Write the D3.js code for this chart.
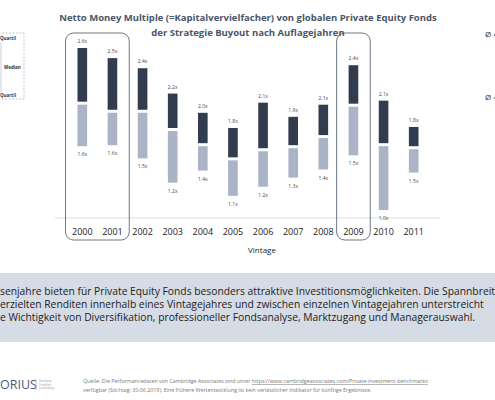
<!DOCTYPE html>
<html><head><meta charset="utf-8">
<script src="https://cdn.jsdelivr.net/npm/d3@7"></script>
<style>body{margin:0;background:#fff;font-family:"Open Sans",sans-serif;}</style>
</head><body>
<svg id="c" width="495" height="400"></svg>
<script>
var years = ['2000','2001','2002','2003','2004','2005','2006','2007','2008','2009','2010','2011'];
var topQ = [2.6, 2.5, 2.4, 2.15, 1.96, 1.81, 2.06, 1.92, 2.04, 2.43, 2.08, 1.82];
var median = [2.07, 1.99, 1.99, 1.81, 1.66, 1.52, 1.61, 1.64, 1.74, 2.05, 1.66, 1.63];
var bottomQ = [1.63, 1.64, 1.51, 1.27, 1.39, 1.14, 1.23, 1.32, 1.40, 1.54, 1.0, 1.37];
var topLabels = ['2.6x','2.5x','2.4x','2.2x','2.0x','1.8x','2.1x','1.9x','2.1x','2.4x','2.1x','1.8x'];
var bottomLabels = ['1.6x','1.6x','1.5x','1.2x','1.4x','1.1x','1.2x','1.3x','1.4x','1.5x','1.0x','1.5x'];
var highlight = [['2000','2001'], ['2009','2009']];

var svg = d3.select('#c');
var x = d3.scaleBand().domain(years).range([57, 439]).padding(0.68);
var y = d3.scaleLinear().domain([1.0, 2.6]).range([210, 48]);

// title
svg.append('text').attr('x', 248).attr('y', 21).attr('text-anchor', 'middle')
    .attr('font-size', 9.5).attr('font-weight', 'bold').attr('fill', '#4a5568')
    .text('Netto Money Multiple (=Kapitalvervielfacher) von globalen Private Equity Fonds');
svg.append('text').attr('x', 248).attr('y', 36).attr('text-anchor', 'middle')
    .attr('font-size', 9.5).attr('font-weight', 'bold').attr('fill', '#4a5568')
    .text('der Strategie Buyout nach Auflagejahren');

// legend stub
svg.append('rect').attr('x', -5).attr('y', 33).attr('width', 29).attr('height', 66)
    .attr('fill', 'none').attr('stroke', '#aaa').attr('stroke-dasharray', '2,1.5').attr('stroke-width', 0.7);
svg.append('line').attr('x1', 1).attr('x2', 1).attr('y1', 42).attr('y2', 92).attr('stroke', '#ccd').attr('stroke-width', 1);
[['Quartil', 0, 40], ['Median', 4, 69], ['Quartil', 0, 97]].forEach(function (d) {
    svg.append('text').attr('x', d[1]).attr('y', d[2]).attr('font-size', 4.5).attr('font-weight', 'bold')
        .attr('fill', '#333').text(d[0]);
});
svg.append('text').attr('x', 485).attr('y', 37).attr('font-size', 8).attr('fill', '#333').text('Ø =');
svg.append('text').attr('x', 485).attr('y', 100).attr('font-size', 8).attr('fill', '#333').text('Ø =');

// axis line
svg.append('line').attr('x1', 55).attr('x2', 440).attr('y1', 218).attr('y2', 218)
    .attr('stroke', '#ddd').attr('stroke-width', 1);

var g = svg.append('g');
g.selectAll('rect.dark').data(years).enter().append('rect')
    .attr('x', function (d) { return x(d); }).attr('width', x.bandwidth())
    .attr('y', function (d, i) { return y(topQ[i]); })
    .attr('height', function (d, i) { return y(median[i]) - y(topQ[i]); })
    .attr('fill', '#323c4f');
g.selectAll('rect.light').data(years).enter().append('rect')
    .attr('x', function (d) { return x(d); }).attr('width', x.bandwidth())
    .attr('y', function (d, i) { return y(median[i]) + 3; })
    .attr('height', function (d, i) { return y(bottomQ[i]) - y(median[i]) - 3; })
    .attr('fill', '#aab4c6');
g.selectAll('text.tl').data(years).enter().append('text')
    .attr('x', function (d) { return x(d) + x.bandwidth() / 2; })
    .attr('y', function (d, i) { return y(topQ[i]) - 5; })
    .attr('text-anchor', 'middle').attr('font-size', 5).attr('fill', '#444')
    .text(function (d, i) { return topLabels[i]; });
g.selectAll('text.bl').data(years).enter().append('text')
    .attr('x', function (d) { return x(d) + x.bandwidth() / 2; })
    .attr('y', function (d, i) { return y(bottomQ[i]) + 10; })
    .attr('text-anchor', 'middle').attr('font-size', 5).attr('fill', '#444')
    .text(function (d, i) { return bottomLabels[i]; });
g.selectAll('text.yr').data(years).enter().append('text')
    .attr('x', function (d) { return x(d) + x.bandwidth() / 2; })
    .attr('y', 235).attr('text-anchor', 'middle').attr('font-size', 9).attr('fill', '#222')
    .text(function (d) { return d; });
svg.append('text').attr('x', 262).attr('y', 253).attr('text-anchor', 'middle')
    .attr('font-size', 8).attr('fill', '#222').text('Vintage');

// highlight frames
highlight.forEach(function (h) {
    var x0 = x(h[0]) - 12;
    var x1 = x(h[1]) + x.bandwidth() + 12;
    svg.append('rect').attr('x', x0).attr('y', 33).attr('width', x1 - x0).attr('height', 207)
        .attr('rx', 8).attr('fill', 'none').attr('stroke', '#4a5568').attr('stroke-width', 0.8);
});

// text box
svg.append('rect').attr('x', 0).attr('y', 273).attr('width', 495).attr('height', 69).attr('fill', '#d6dce5');
['senjahre bieten für Private Equity Fonds besonders attraktive Investitionsmöglichkeiten. Die Spannbreite',
 'erzielten Renditen innerhalb eines Vintagejahres und zwischen einzelnen Vintagejahren unterstreicht',
 'e Wichtigkeit von Diversifikation, professioneller Fondsanalyse, Marktzugang und Managerauswahl.'
].forEach(function (t, i) {
    svg.append('text').attr('x', 0).attr('y', 295 + i * 13).attr('font-size', 10.3).attr('fill', '#222').text(t);
});

// footer
svg.append('text').attr('x', 0).attr('y', 389).attr('font-size', 12.5).attr('fill', '#4a5a78').text('ORIUS');
svg.append('line').attr('x1', 36).attr('x2', 36).attr('y1', 379).attr('y2', 390).attr('stroke', '#99a').attr('stroke-width', 0.6);
['Hamburg', 'Frankfurt', 'Luxemburg'].forEach(function (t, i) {
    svg.append('text').attr('x', 39).attr('y', 382 + i * 3.5).attr('font-size', 2.8).attr('fill', '#999').text(t);
});
var src = svg.append('text').attr('x', 83).attr('y', 383).attr('font-size', 5.3).attr('fill', '#777');
src.append('tspan').text('Quelle: Die Performancedaten von Cambridge Associates sind unter ');
src.append('tspan').attr('text-decoration', 'underline').text('https://www.cambridgeassociates.com/Private-investment-benchmarks');
svg.append('text').attr('x', 83).attr('y', 392).attr('font-size', 5.3).attr('fill', '#777')
    .text('verfügbar (Stichtag: 30.06.2019). Eine frühere Wertentwicklung ist kein verlässlicher Indikator für künftige Ergebnisse.');
</script>
</body></html>
